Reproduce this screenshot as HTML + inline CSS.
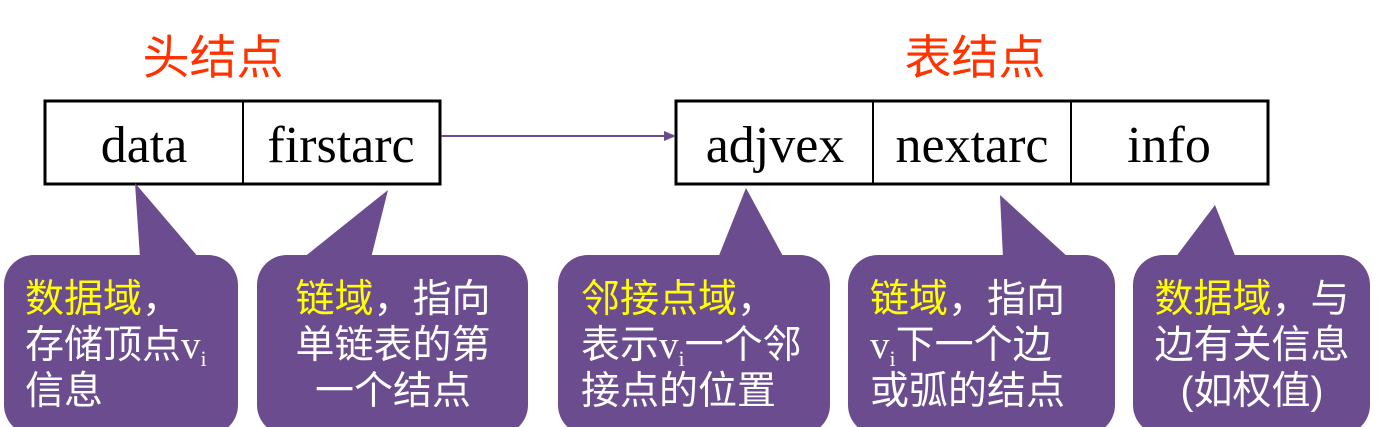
<!DOCTYPE html>
<html><head><meta charset="utf-8"><style>
body{margin:0;background:#fff;width:1391px;height:427px;overflow:hidden}
svg{display:block}
.t{font-family:"Liberation Sans","Noto Sans CJK SC",sans-serif;font-size:39px;fill:#fff}
.y{fill:#ffff00}
.s{font-family:"Liberation Serif",serif}
</style></head><body>
<svg width="1391" height="427" viewBox="0 0 1391 427">
<g font-family="Liberation Sans,Noto Sans CJK SC,sans-serif" font-size="47" fill="#ff3300" text-anchor="middle">
<text x="213" y="74">头结点</text>
<text x="975" y="74">表结点</text>
</g>
<g fill="none" stroke="#000" stroke-width="3">
<rect x="45" y="101" width="395" height="83"/>
<line x1="243" y1="101" x2="243" y2="184" stroke-width="2"/>
<rect x="676" y="101" width="592" height="83"/>
<line x1="873" y1="101" x2="873" y2="184" stroke-width="2"/>
<line x1="1071" y1="101" x2="1071" y2="184" stroke-width="2"/>
</g>
<g font-family="Liberation Serif,serif" font-size="52" text-anchor="middle" fill="#000">
<text x="144" y="162">data</text>
<text x="341" y="162">firstarc</text>
<text x="775" y="162">adjvex</text>
<text x="972" y="162">nextarc</text>
<text x="1169" y="162">info</text>
</g>
<line x1="441" y1="136" x2="666" y2="136" stroke="#6b4a8e" stroke-width="2"/>
<polygon points="676,136 664,131 664,141" fill="#6b4a8e"/>
<g fill="#6b4c8f">
<rect x="4" y="255" width="234" height="180" rx="30"/>
<polygon points="135,183 140,258 199,258"/>
<rect x="257" y="255" width="271" height="180" rx="30"/>
<polygon points="388,190 303,258 371,258"/>
<rect x="558" y="255" width="272" height="180" rx="30"/>
<polygon points="746,188 718,258 784,258"/>
<rect x="848" y="255" width="267" height="180" rx="30"/>
<polygon points="1000,195 1003,258 1069,258"/>
<rect x="1133" y="255" width="237" height="180" rx="30"/>
<polygon points="1215,205 1175,258 1236,258"/>
</g>
<text class="t" x="25" y="312"><tspan class="y">数据域</tspan>，</text>
<text class="t" x="25" y="358">存储顶点<tspan class="s">v</tspan><tspan class="s" font-size="22" dy="8">i</tspan></text>
<text class="t" x="25" y="404">信息</text>
<g text-anchor="middle">
<text class="t" x="393" y="312"><tspan class="y">链域</tspan>，指向</text>
<text class="t" x="393" y="358">单链表的第</text>
<text class="t" x="393" y="404">一个结点</text>
<text class="t" x="1252" y="312"><tspan class="y">数据域</tspan>，与</text>
<text class="t" x="1252" y="358">边有关信息</text>
<text class="t" x="1252" y="404">(如权值)</text>
</g>
<text class="t" x="581" y="312"><tspan class="y">邻接点域</tspan>，</text>
<text class="t" x="581" y="358">表示<tspan class="s">v</tspan><tspan class="s" font-size="22" dy="8">i</tspan><tspan dy="-8">一个邻</tspan></text>
<text class="t" x="581" y="404">接点的位置</text>
<text class="t" x="870" y="312"><tspan class="y">链域</tspan>，指向</text>
<text class="t" x="870" y="358"><tspan class="s">v</tspan><tspan class="s" font-size="22" dy="8">i</tspan><tspan dy="-8">下一个边</tspan></text>
<text class="t" x="870" y="404">或弧的结点</text>
</svg>
</body></html>
